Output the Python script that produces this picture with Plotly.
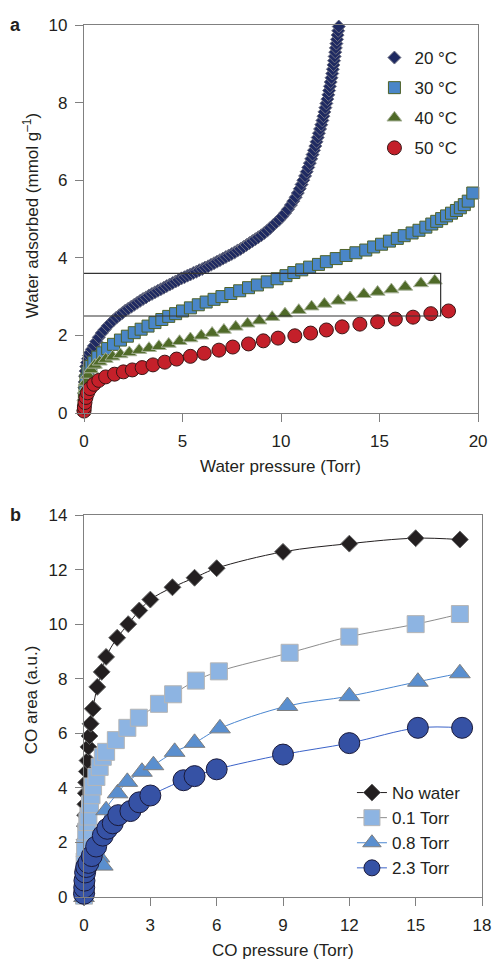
import plotly.graph_objects as go

# ---------------- Panel a data ----------------
x20 = [0, 0, 0.005, 0.01, 0.02, 0.035, 0.055, 0.08, 0.11, 0.15, 0.2, 0.25, 0.3, 0.4, 0.5, 0.62, 0.75, 0.9, 1.05, 1.2,
       1.35, 1.5, 1.65, 1.8, 1.95, 2.1, 2.25, 2.4, 2.55, 2.7, 2.85, 3.0, 3.15, 3.3, 3.45, 3.6, 3.75, 3.9, 4.05, 4.2,
       4.35, 4.5, 4.65, 4.8, 4.95, 5.1, 5.25, 5.4, 5.55, 5.7, 5.85, 6.0, 6.15, 6.3, 6.45, 6.6, 6.75, 6.9, 7.05, 7.2,
       7.35, 7.5, 7.65, 7.8, 7.95, 8.1, 8.25, 8.4, 8.55, 8.7, 8.85, 9.0, 9.15, 9.3, 9.45, 9.6, 9.75, 9.9, 10.05, 10.2,
       10.35, 10.5, 10.62, 10.74, 10.85, 10.95, 11.04, 11.13, 11.22, 11.3, 11.38, 11.46, 11.53, 11.6, 11.67, 11.74,
       11.8, 11.86, 11.92, 11.98, 12.04, 12.1, 12.15, 12.2, 12.25, 12.3, 12.35, 12.4, 12.44, 12.48, 12.52, 12.56,
       12.6, 12.63, 12.66, 12.69, 12.72, 12.75, 12.78, 12.81, 12.84, 12.87, 12.9, 12.93]
y20 = [0.05, 0.2, 0.35, 0.5, 0.65, 0.8, 0.95, 1.08, 1.2, 1.3, 1.4, 1.48, 1.55, 1.64, 1.73, 1.84, 1.95, 2.06, 2.15, 2.24,
       2.32, 2.39, 2.46, 2.52, 2.58, 2.64, 2.69, 2.74, 2.79, 2.84, 2.89, 2.94, 2.98, 3.03, 3.07, 3.11, 3.15, 3.19, 3.23, 3.27,
       3.31, 3.35, 3.39, 3.43, 3.47, 3.5, 3.54, 3.57, 3.61, 3.64, 3.68, 3.71, 3.75, 3.78, 3.82, 3.86, 3.9, 3.94, 3.98, 4.02,
       4.06, 4.1, 4.14, 4.19, 4.23, 4.28, 4.33, 4.38, 4.43, 4.48, 4.53, 4.58, 4.64, 4.7, 4.77, 4.84, 4.91, 4.98, 5.06, 5.15,
       5.25, 5.36, 5.46, 5.56, 5.67, 5.78, 5.89, 6.0, 6.11, 6.22, 6.33, 6.44, 6.55, 6.66, 6.77, 6.88,
       6.99, 7.1, 7.21, 7.32, 7.43, 7.54, 7.65, 7.76, 7.87, 7.98, 8.09, 8.2, 8.31, 8.42, 8.53, 8.64,
       8.75, 8.86, 8.97, 9.08, 9.19, 9.3, 9.41, 9.52, 9.63, 9.74, 9.85, 9.96]

x30 = [0, 0.02, 0.05, 0.1, 0.2, 0.35, 0.5, 0.7, 0.95, 1.2, 1.5, 1.85, 2.2, 2.55, 2.9, 3.25, 3.6, 3.95, 4.3, 4.65,
       5.0, 5.4, 5.8, 6.2, 6.6, 7.0, 7.45, 7.9, 8.35, 8.8, 9.3, 9.8, 10.25, 10.65, 11.05, 11.45, 11.9, 12.3, 12.8,
       13.3, 13.8, 14.3, 14.7, 15.1, 15.5, 15.9, 16.25, 16.65, 17.0, 17.35, 17.65, 17.9, 18.15, 18.4, 18.65, 18.9,
       19.1, 19.3, 19.5, 19.73]
y30 = [0.1, 0.35, 0.6, 0.85, 1.05, 1.2, 1.31, 1.44, 1.55, 1.66, 1.77, 1.88, 1.98, 2.07, 2.16, 2.24, 2.33, 2.41, 2.49, 2.56,
       2.63, 2.71, 2.79, 2.86, 2.93, 3.0, 3.08, 3.15, 3.23, 3.3, 3.38, 3.46, 3.54, 3.62, 3.69, 3.76, 3.83, 3.9, 3.98,
       4.06, 4.13, 4.2, 4.28, 4.35, 4.43, 4.5, 4.57, 4.64, 4.71, 4.79, 4.87, 4.94, 5.01, 5.08, 5.15, 5.22, 5.29, 5.37,
       5.46, 5.67]

x40 = [0, 0.02, 0.05, 0.1, 0.2, 0.35, 0.55, 0.8, 1.1, 1.45, 1.85, 2.3, 2.8, 3.3, 3.8, 4.3, 4.85, 5.4, 5.95, 6.5, 7.1,
       7.7, 8.3, 8.9, 9.55, 10.2, 10.9, 11.55, 12.2, 12.9, 13.5, 14.2, 14.9, 15.6, 16.3, 17.1, 17.8]
y40 = [0.15, 0.4, 0.6, 0.8, 0.98, 1.12, 1.24, 1.32, 1.39, 1.45, 1.51, 1.56, 1.62, 1.67, 1.72, 1.78, 1.85, 1.92, 1.99, 2.06,
       2.14, 2.22, 2.3, 2.38, 2.47, 2.56, 2.65, 2.74, 2.81, 2.89, 2.97, 3.06, 3.12, 3.18, 3.25, 3.34, 3.41]

x50 = [0, 0.02, 0.05, 0.1, 0.18, 0.3, 0.5, 0.75, 1.1, 1.55, 2.0, 2.45, 2.95, 3.5, 4.1, 4.7, 5.4, 6.1, 6.85, 7.55,
       8.35, 9.1, 9.85, 10.7, 11.5, 12.3, 13.1, 14.0, 14.9, 15.8, 16.7, 17.6, 18.5]
y50 = [0.05, 0.15, 0.27, 0.4, 0.52, 0.63, 0.74, 0.84, 0.93, 1.0, 1.06, 1.11, 1.17, 1.24, 1.31, 1.39, 1.46, 1.54, 1.62,
       1.7, 1.78, 1.86, 1.93, 1.99, 2.06, 2.14, 2.22, 2.29, 2.35, 2.42, 2.47, 2.56, 2.63]

box_x = [-0.1, 18.1]
box_y = [2.5, 3.6]

a_xticks = [0, 5, 10, 15, 20]
a_yticks = [0, 2, 4, 6, 8, 10]

# ---------------- Panel b data ----------------
xb0 = [0, 0.01, 0.02, 0.03, 0.04, 0.05, 0.06, 0.08, 0.1, 0.13, 0.16, 0.2, 0.25, 0.3, 0.4, 0.6, 0.8, 1.0, 1.5, 2.0,
       2.5, 3.0, 4.0, 5.0, 6.0, 9.0, 12.0, 15.0, 17.0]
yb0 = [0, 0.8, 1.5, 2.1, 2.6, 3.0, 3.4, 3.8, 4.2, 4.6, 5.0, 5.5, 5.9, 6.35, 6.9, 7.7, 8.25, 8.8, 9.5, 10.0,
       10.5, 10.9, 11.35, 11.7, 12.05, 12.65, 12.95, 13.15, 13.1]

xb1 = [0, 0.01, 0.03, 0.05, 0.1, 0.15, 0.2, 0.27, 0.34, 0.41, 0.56, 0.71, 0.85, 1.0, 1.44, 1.96, 2.48, 3.39, 4.03,
       5.06, 6.1, 9.3, 12.0, 15.0, 17.0]
yb1 = [0.05, 0.7, 1.3, 1.8, 2.4, 2.75, 2.95, 3.4, 3.73, 4.05, 4.4, 4.77, 5.14, 5.32, 5.75, 6.2, 6.57, 7.08, 7.43,
       7.93, 8.27, 8.95, 9.54, 10.0, 10.37]

xb2 = [0, 0.03, 0.7, 0.85, 1.0, 1.52, 1.96, 2.62, 3.14, 4.1, 5.0, 6.15, 9.2, 12.0, 15.1, 17.0]
yb2 = [0.0, 0.3, 1.45, 1.15, 3.18, 3.8, 4.22, 4.59, 4.83, 5.32, 5.65, 6.18, 7.0, 7.36, 7.89, 8.2]

xb3 = [0, 0.01, 0.02, 0.05, 0.1, 0.2, 0.35, 0.55, 0.85, 1.05, 1.3, 1.55, 2.1, 2.5, 3.0, 4.5, 5.0, 6.0, 9.0, 12.0,
       15.1, 17.1]
yb3 = [0.12, 0.35, 0.6, 0.9, 1.1, 1.25, 1.5, 1.85, 2.25, 2.5, 2.7, 3.0, 3.15, 3.47, 3.72, 4.28, 4.43, 4.68, 5.22,
       5.64, 6.2, 6.2]

b_xticks = [0, 3, 6, 9, 12, 15, 18]
b_yticks = [0, 2, 4, 6, 8, 10, 12, 14]

names_a = ["20 °C", "30 °C", "40 °C", "50 °C"]
names_b = ["No water", "0.1 Torr", "0.8 Torr", "2.3 Torr"]

FONT = "Liberation Sans, Arial, sans-serif"
TXT = "#231f20"
AX = "#808080"

fig = go.Figure()

# panel a traces
fig.add_trace(go.Scatter(x=x20, y=y20, mode="markers", name=names_a[0], xaxis="x", yaxis="y", legend="legend",
                         legendgroup="a1", cliponaxis=False,
                         marker=dict(symbol="diamond", size=10, color="#1f2a62", line=dict(color="#6d6f80", width=1))))
fig.add_trace(go.Scatter(x=x30, y=y30, mode="markers", name=names_a[1], xaxis="x", yaxis="y", legend="legend",
                         legendgroup="a2", cliponaxis=False,
                         marker=dict(symbol="square", size=12, color="#4a86c8", line=dict(color="#4f6228", width=1))))
fig.add_trace(go.Scatter(x=x40, y=y40, mode="markers", name=names_a[2], xaxis="x", yaxis="y", legend="legend",
                         legendgroup="a3", cliponaxis=False,
                         marker=dict(symbol="triangle-up", size=13, color="#4f6a28", line=dict(color="#a9b39a", width=1))))
fig.add_trace(go.Scatter(x=x50, y=y50, mode="markers", name=names_a[3], xaxis="x", yaxis="y", legend="legend",
                         legendgroup="a4", cliponaxis=False,
                         marker=dict(symbol="circle", size=14, color="#c4202a", line=dict(color="#3a1515", width=1))))

# panel b traces
fig.add_trace(go.Scatter(x=xb0, y=yb0, mode="lines+markers", name=names_b[0], xaxis="x2", yaxis="y2", legend="legend2",
                         cliponaxis=False, line=dict(color="#231f20", width=1, shape="spline"),
                         marker=dict(symbol="diamond", size=13, color="#231f20", line=dict(color="#666666", width=1))))
fig.add_trace(go.Scatter(x=xb1, y=yb1, mode="lines+markers", name=names_b[1], xaxis="x2", yaxis="y2", legend="legend2",
                         cliponaxis=False, line=dict(color="#8c8c8c", width=1, shape="spline"),
                         marker=dict(symbol="square", size=17, color="#8db4e2", line=dict(color="#b5b5b5", width=1))))
fig.add_trace(go.Scatter(x=xb2, y=yb2, mode="lines+markers", name=names_b[2], xaxis="x2", yaxis="y2", legend="legend2",
                         cliponaxis=False, line=dict(color="#4a86d0", width=1, shape="spline"),
                         marker=dict(symbol="triangle-up", size=18, color="#5a8fcf", line=dict(color="#7f7f7f", width=1))))
fig.add_trace(go.Scatter(x=xb3, y=yb3, mode="lines+markers", name=names_b[3], xaxis="x2", yaxis="y2", legend="legend2",
                         cliponaxis=False, line=dict(color="#3a62c8", width=1, shape="spline"),
                         marker=dict(symbol="circle", size=21, color="#3652a5", line=dict(color="#1a1a3a", width=1))))

axis_common = dict(showgrid=False, zeroline=False, showline=True, linecolor=AX, linewidth=1.3,
                   ticks="outside", ticklen=8, tickcolor=AX, tickwidth=1.3, mirror=True,
                   tickfont=dict(family=FONT, size=17, color=TXT))

L, R, T, B = 84, 9, 25, 63
W, H = 500, 960
pw = W - L - R
ph = H - T - B

def fy(px):
    return 1 - (px - T) / ph

def fx(px):
    return (px - L) / pw

fig.update_layout(
    width=W, height=H, margin=dict(l=L, r=R, t=T, b=B),
    paper_bgcolor="white", plot_bgcolor="white",
    font=dict(family=FONT, size=17, color=TXT),
    xaxis=dict(axis_common, domain=[0, fx(487)], range=[0, 20], tickvals=a_xticks, anchor="y", ticklabelstandoff=4),
    yaxis=dict(axis_common, domain=[fy(413), 1], range=[0, 10], tickvals=a_yticks, anchor="x", ticklabelstandoff=4),
    xaxis2=dict(axis_common, domain=[0, 1], range=[0, 18], tickvals=b_xticks, anchor="y2", ticklabelstandoff=4),
    yaxis2=dict(axis_common, domain=[0, fy(515)], range=[0, 14], tickvals=b_yticks, anchor="x2", ticklabelstandoff=4),
    legend=dict(x=fx(381), y=fy(40), xanchor="left", yanchor="top", bgcolor="rgba(0,0,0,0)",
                font=dict(family=FONT, size=17, color=TXT), tracegroupgap=5, traceorder="grouped"),
    legend2=dict(x=fx(358), y=fy(775), xanchor="left", yanchor="top", bgcolor="rgba(0,0,0,0)",
                 font=dict(family=FONT, size=17, color=TXT)),
    shapes=[dict(type="rect", xref="x", yref="y", x0=box_x[0], x1=box_x[1], y0=box_y[0], y1=box_y[1],
                 line=dict(color="#333333", width=1.2), layer="above")],
    annotations=[
        dict(text="<b>a</b>", xref="paper", yref="paper", x=fx(14), y=fy(25), showarrow=False,
             xanchor="center", yanchor="middle", font=dict(family=FONT, size=18, color=TXT)),
        dict(text="<b>b</b>", xref="paper", yref="paper", x=fx(14), y=fy(515), showarrow=False,
             xanchor="center", yanchor="middle", font=dict(family=FONT, size=18, color=TXT)),
        dict(text="Water adsorbed (mmol g<sup>–1</sup>)", xref="paper", yref="paper", x=fx(30), y=fy(216),
             textangle=-90, showarrow=False, xanchor="center", yanchor="middle",
             font=dict(family=FONT, size=17, color=TXT)),
        dict(text="CO area (a.u.)", xref="paper", yref="paper", x=fx(30), y=fy(700),
             textangle=-90, showarrow=False, xanchor="center", yanchor="middle",
             font=dict(family=FONT, size=17, color=TXT)),
        dict(text="Water pressure (Torr)", xref="paper", yref="paper", x=fx(285), y=fy(466),
             showarrow=False, xanchor="center", yanchor="middle", font=dict(family=FONT, size=17, color=TXT)),
        dict(text="CO pressure (Torr)", xref="paper", yref="paper", x=fx(287), y=fy(950),
             showarrow=False, xanchor="center", yanchor="middle", font=dict(family=FONT, size=17, color=TXT)),
    ],
)

fig.write_html("out.html", config={"displayModeBar": False},
               post_script="document.body.style.margin='0px';document.body.style.overflow='hidden';")
